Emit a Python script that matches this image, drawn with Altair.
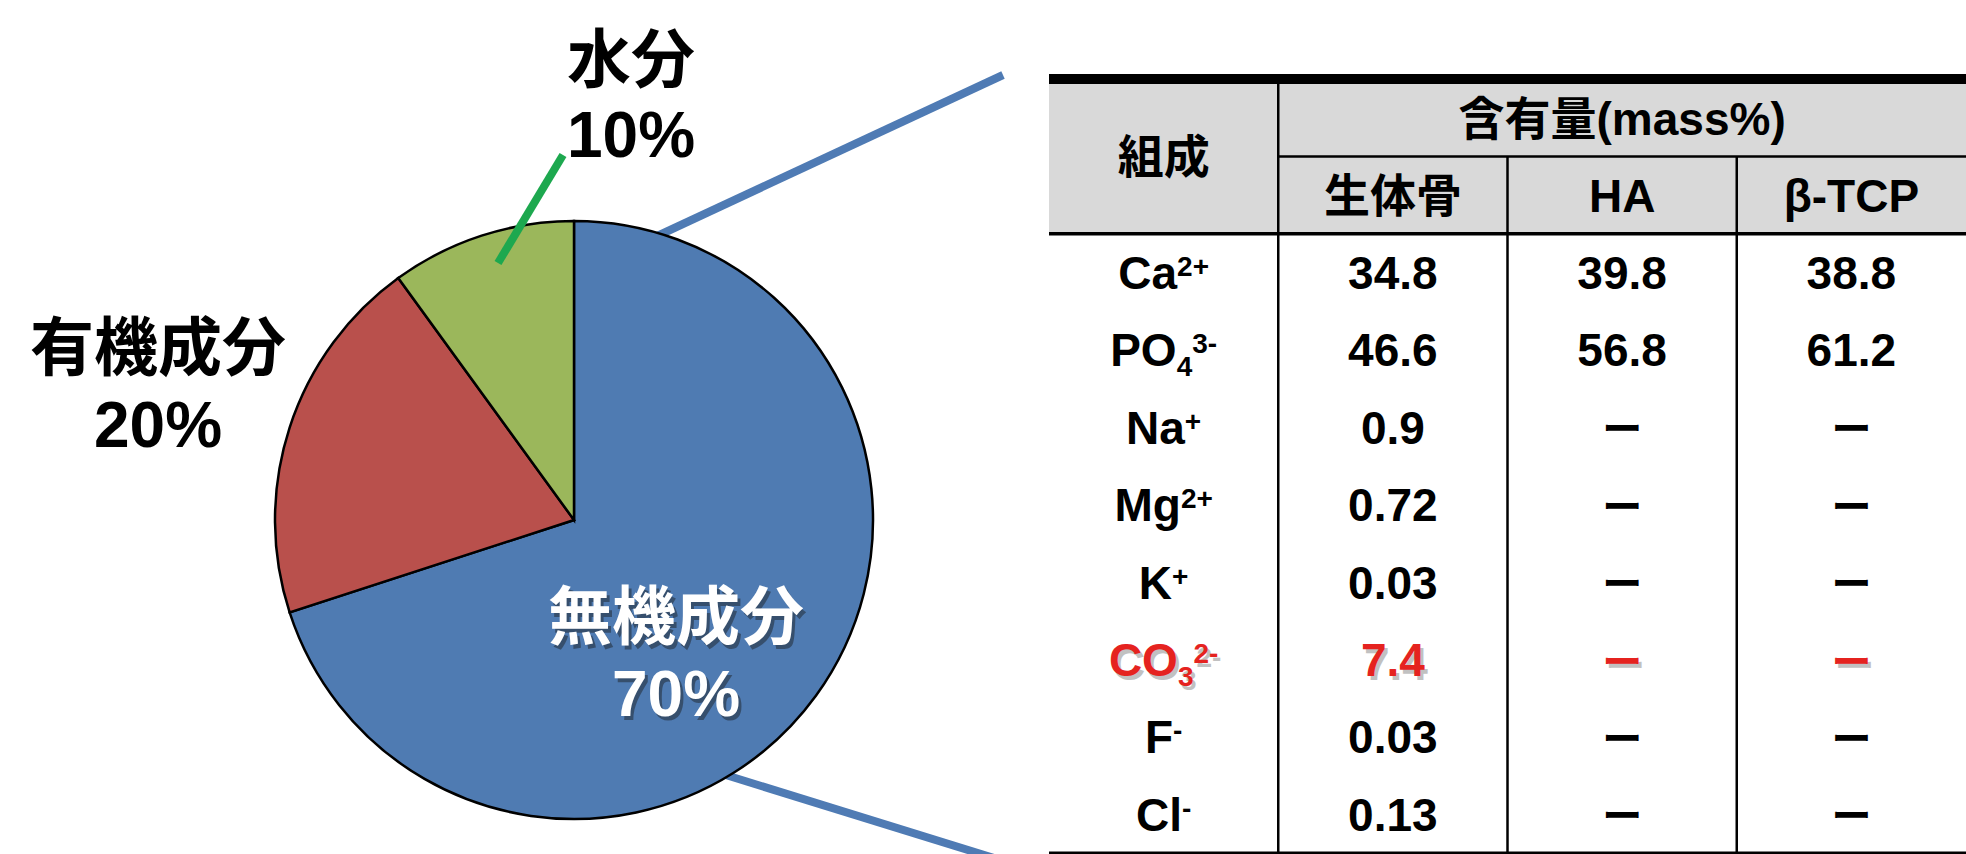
import altair as alt
import pandas as pd

# ---------------- data ----------------
# composition of bone (mass %)
slice_names = ["無機成分", "有機成分", "水分"]
slice_pct = [70, 20, 10]

# ion content of the inorganic phase (mass %)
ion_base = ["Ca", "PO", "Na", "Mg", "K", "CO", "F", "Cl"]
ion_sub = ["", "4", "", "", "", "3", "", ""]
ion_sup = ["2+", "3-", "+", "2+", "+", "2-", "-", "-"]
bone_val = [34.8, 46.6, 0.9, 0.72, 0.03, 7.4, 0.03, 0.13]
ha_val = [39.8, 56.8, None, None, None, None, None, None]
tcp_val = [38.8, 61.2, None, None, None, None, None, None]

header_left = "組成"
header_group = "含有量(mass%)"
header_cols = ["生体骨", "HA", "β-TCP"]
highlight_ion = "CO"
missing_mark = "ー"

# ---------------- style ----------------
SLICE_COLORS = ["#4F7BB2", "#B9504C", "#9BB75B"]
LINK_BLUE = "#4F7BB4"
LEADER_GREEN = "#1DA84F"
RED = "#E5231F"
HEADER_GRAY = "#D9D9D9"
LATIN = "Liberation Sans, Noto Sans CJK JP"
CJK = "Noto Sans CJK JP"

W, H = 1966, 854
PIE_CX, PIE_CY, PIE_R = 574, 520, 299

# label anchors around the pie: (x, name baseline, percent baseline, colour)
LABEL_POS = {
    "無機成分": (676, 639, 716, "white"),
    "有機成分": (158, 370, 447, "black"),
    "水分": (631, 82, 157, "black"),
}

# table geometry: columns 0..4, rows -2..8 (two header rows, eight ion rows)
TBL_LEFT, TBL_RIGHT = 1049, 1966
TBL_TOP, TBL_BOTTOM = 79, 853
PX_PER_COL = (TBL_RIGHT - TBL_LEFT) / 4
XS = alt.Scale(domain=[0, 4], range=[TBL_LEFT, TBL_RIGHT], nice=False, zero=False)
YS = alt.Scale(domain=[-2, 8], range=[TBL_TOP, TBL_BOTTOM], nice=False, zero=False)


def X(f):
    return alt.X(f, type="quantitative", scale=XS, axis=None)


def Y(f):
    return alt.Y(f, type="quantitative", scale=YS, axis=None)


BASE_FS, SCRIPT_FS, VALUE_FS = 46, 28, 46

# Liberation Sans Bold advance widths (per 1000 em) for composing ion labels
ADV = {"C": 722, "a": 556, "P": 667, "O": 778, "N": 722, "M": 833, "g": 611,
       "K": 722, "F": 611, "l": 278, "+": 584, "-": 333}


def text_width(s, fs):
    return sum(ADV.get(ch, 556) for ch in s) * fs / 1000


dummy = pd.DataFrame({"k": [0]})

# ---------------- pie ----------------
pie_df = pd.DataFrame({"name": slice_names, "pct": slice_pct, "ord": list(range(len(slice_names)))})

pie = alt.Chart(pie_df).mark_arc(
    radius=PIE_R, stroke="black", strokeWidth=2.5
).encode(
    theta=alt.Theta("pct:Q", stack=True),
    order=alt.Order("ord:Q"),
    color=alt.Color("name:N", scale=alt.Scale(domain=slice_names, range=SLICE_COLORS), legend=None),
    x=alt.value(PIE_CX),
    y=alt.value(PIE_CY),
)

# blue lines linking the inorganic slice to the table
link_up = alt.Chart(dummy).mark_rule(color=LINK_BLUE, strokeWidth=8).encode(
    x=alt.value(640), y=alt.value(244), x2=alt.value(1003), y2=alt.value(75))
link_down = alt.Chart(dummy).mark_rule(color=LINK_BLUE, strokeWidth=8).encode(
    x=alt.value(700), y=alt.value(767), x2=alt.value(1010), y2=alt.value(863))

# leader for the small water slice
leader = alt.Chart(dummy).mark_rule(color=LEADER_GREEN, strokeWidth=8).encode(
    x=alt.value(563), y=alt.value(155), x2=alt.value(498), y2=alt.value(263))

pie_labels = []
for name, pct in zip(slice_names, slice_pct):
    lx, y_name, y_pct, col = LABEL_POS[name]
    one = pd.DataFrame({"name": [name], "pct_text": [f"{pct}%"]})
    for field, yy in (("name", y_name), ("pct_text", y_pct)):
        if col == "white":
            pie_labels.append(
                alt.Chart(one).mark_text(
                    font=LATIN, fontSize=64, fontWeight="bold", color="#1a1a1a",
                    opacity=0.45, baseline="alphabetic", align="center", dx=3, dy=4
                ).encode(text=f"{field}:N", x=alt.value(lx), y=alt.value(yy))
            )
        pie_labels.append(
            alt.Chart(one).mark_text(
                font=LATIN, fontSize=64, fontWeight="bold", color=col,
                baseline="alphabetic", align="center"
            ).encode(text=f"{field}:N", x=alt.value(lx), y=alt.value(yy))
        )

# ---------------- table ----------------
header_bg = alt.Chart(pd.DataFrame({"x0": [0], "x1": [4], "y0": [-2], "y1": [0]})).mark_rect(
    color=HEADER_GRAY
).encode(x=X("x0"), x2="x1", y=Y("y0"), y2="y1")

hlines = pd.DataFrame({
    "x0": [0, 1, 0, 0], "x1": [4, 4, 4, 4], "y": [-2, -1, 0, 8], "w": [10, 2.5, 3.5, 3],
})
vlines = pd.DataFrame({
    "x": [1, 2, 3], "y0": [-2, -1, -1], "y1": [8, 8, 8], "w": [2.5, 2.5, 2.5],
})
hrules = alt.Chart(hlines).mark_rule(color="black").encode(
    x=X("x0"), x2="x1", y=Y("y"), strokeWidth=alt.StrokeWidth("w:Q", scale=None))
vrules = alt.Chart(vlines).mark_rule(color="black").encode(
    x=X("x"), y=Y("y0"), y2="y1", strokeWidth=alt.StrokeWidth("w:Q", scale=None))

head_df = pd.DataFrame({
    "text": [header_left, header_group] + header_cols,
    "x": [0.5, 2.5, 1.5, 2.5, 3.5],
    "y": [-1, -1.5, -0.5, -0.5, -0.5],
})
headers = alt.Chart(head_df).mark_text(
    font=LATIN, fontSize=46, fontWeight="bold", color="black",
    baseline="alphabetic", align="center", dy=17
).encode(text="text:N", x=X("x"), y=Y("y"))

# ion labels: base, subscript and superscript composed side by side, centred in column 0
lab_rows = []
for i, (b, sb, sp) in enumerate(zip(ion_base, ion_sub, ion_sup)):
    bw = text_width(b, BASE_FS)
    sw = text_width(sb, SCRIPT_FS)
    pw = text_width(sp, SCRIPT_FS)
    start = 0.5 * PX_PER_COL - (bw + sw + pw) / 2
    ink = RED if b == highlight_ion else "black"
    lab_rows.append({"part": "base", "text": b, "x": start / PX_PER_COL, "y": i + 0.5, "ink": ink, "hl": b == highlight_ion})
    if sb:
        lab_rows.append({"part": "sub", "text": sb, "x": (start + bw) / PX_PER_COL, "y": i + 0.5, "ink": ink, "hl": b == highlight_ion})
    lab_rows.append({"part": "sup", "text": sp, "x": (start + bw + sw) / PX_PER_COL, "y": i + 0.5, "ink": ink, "hl": b == highlight_ion})
lab_df = pd.DataFrame(lab_rows)

val_rows = []
for i, b in enumerate(ion_base):
    ink = RED if b == highlight_ion else "black"
    for c, series in enumerate((bone_val, ha_val, tcp_val)):
        v = series[i]
        val_rows.append({
            "text": missing_mark if v is None else str(v),
            "dash": v is None,
            "x": c + 1.5, "y": i + 0.5, "ink": ink, "hl": b == highlight_ion,
        })
val_df = pd.DataFrame(val_rows)

PART_STYLE = {"base": (BASE_FS, 16.5), "sub": (SCRIPT_FS, 26), "sup": (SCRIPT_FS, 3.5)}


def ion_layers(shadow):
    out = []
    src = alt.Chart(lab_df)
    for part, (fs, dy) in PART_STYLE.items():
        kw = dict(font=LATIN, fontSize=fs, fontWeight="bold", baseline="alphabetic", align="left")
        ch = src.transform_filter(alt.datum.part == part)
        if shadow:
            ch = ch.transform_filter(alt.datum.hl).mark_text(
                color="#777777", opacity=0.45, dx=3, dy=dy + 4, **kw)
            out.append(ch.encode(text="text:N", x=X("x"), y=Y("y")))
        else:
            ch = ch.mark_text(dy=dy, **kw)
            out.append(ch.encode(text="text:N", x=X("x"), y=Y("y"),
                                 color=alt.Color("ink:N", scale=None)))
    return out


def value_layers(shadow):
    out = []
    src = alt.Chart(val_df)
    specs = [
        (alt.datum.dash == False, dict(font=LATIN, fontSize=VALUE_FS, dy=16.5)),
        (alt.datum.dash == True, dict(font=CJK, fontSize=40, dy=16)),
    ]
    for flt, kw in specs:
        ch = src.transform_filter(flt)
        base_kw = dict(fontWeight="bold", baseline="alphabetic", align="center", font=kw["font"], fontSize=kw["fontSize"])
        if shadow:
            ch = ch.transform_filter(alt.datum.hl).mark_text(
                color="#777777", opacity=0.45, dx=3, dy=kw["dy"] + 4, **base_kw)
            out.append(ch.encode(text="text:N", x=X("x"), y=Y("y")))
        else:
            ch = ch.mark_text(dy=kw["dy"], **base_kw)
            out.append(ch.encode(text="text:N", x=X("x"), y=Y("y"),
                                 color=alt.Color("ink:N", scale=None)))
    return out


chart = alt.layer(
    link_up, link_down, pie, leader, *pie_labels,
    header_bg, hrules, vrules, headers,
    *ion_layers(True), *value_layers(True),
    *ion_layers(False), *value_layers(False),
).properties(
    width=W, height=H, autosize="none", padding=0, background="white"
).configure_view(stroke=None)

chart.save("out.html", embed_options={"renderer": "svg", "actions": False})
